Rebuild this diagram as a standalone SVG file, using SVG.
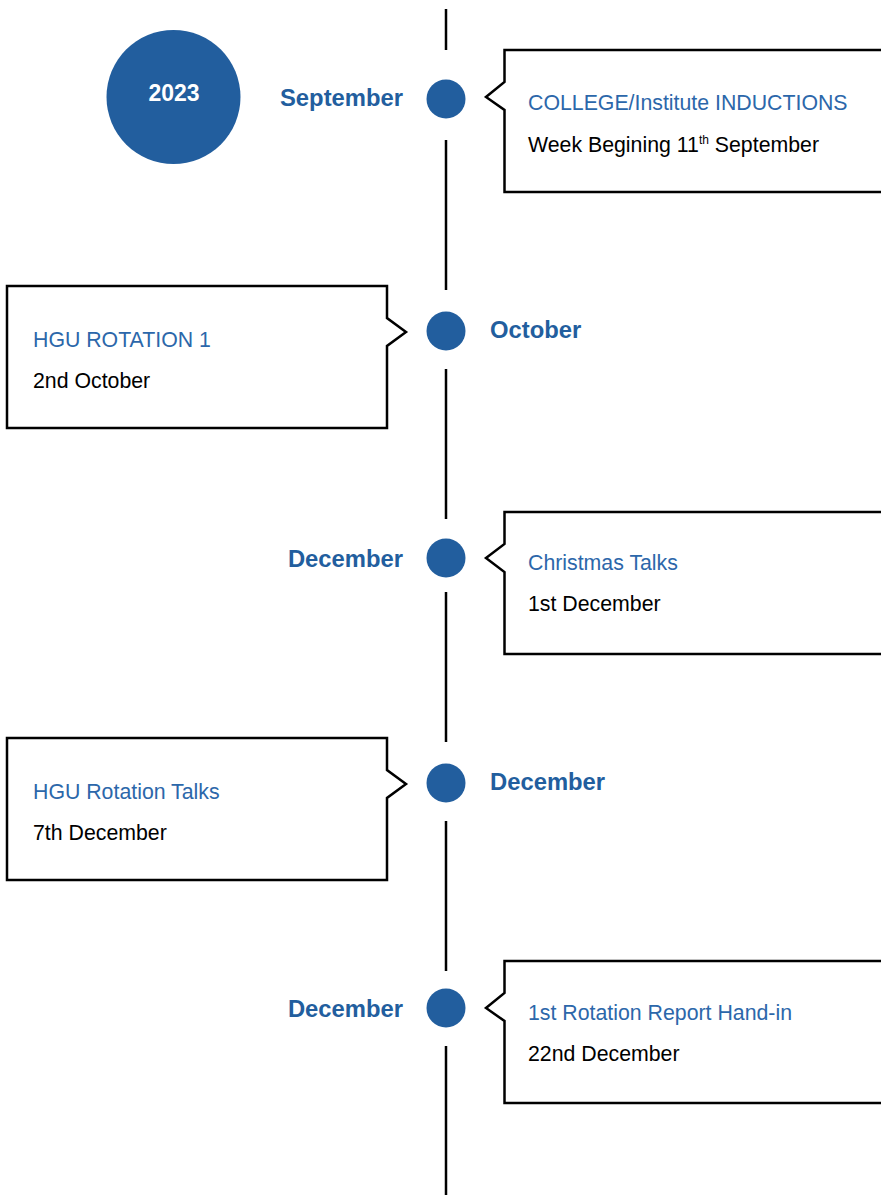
<svg xmlns="http://www.w3.org/2000/svg" width="881" height="1195" viewBox="0 0 881 1195">
<style>
.ln{stroke:#000;stroke-width:2.5;fill:none}
.dot{fill:#225E9E}
.box{fill:#fff;stroke:#000;stroke-width:2.5;stroke-linejoin:miter}
.mon{font-family:"Liberation Sans",Arial,sans-serif;font-weight:bold;font-size:23.8px;fill:#225E9E}
.ttl{font-family:"Liberation Sans",Arial,sans-serif;font-size:21.3px;fill:#2C67AA}
.bdy{font-family:"Liberation Sans",Arial,sans-serif;font-size:21.3px;fill:#000}
</style>
<rect width="881" height="1195" fill="#fff"/>
<g id="connectors">
<line class="ln" x1="446" y1="9" x2="446" y2="50"/>
<line class="ln" x1="446" y1="140" x2="446" y2="290"/>
<line class="ln" x1="446" y1="369" x2="446" y2="519"/>
<line class="ln" x1="446" y1="592" x2="446" y2="742"/>
<line class="ln" x1="446" y1="821" x2="446" y2="971"/>
<line class="ln" x1="446" y1="1046" x2="446" y2="1195"/>
</g>
<g id="year">
<circle class="dot" cx="173.5" cy="97" r="67"/>
<text x="174" y="101" text-anchor="middle" font-family="Liberation Sans, Arial, sans-serif" font-weight="bold" font-size="23" fill="#fff">2023</text>
</g>
<g id="m1">
<circle class="dot" cx="446" cy="99" r="19.5"/>
<text class="mon" x="403" y="106" text-anchor="end">September</text>
</g>
<g id="e1">
<path class="box" d="M890,50 H504.5 V82 L486,97 L504.5,110 V192 H890"/>
<text class="ttl" x="528" y="110">COLLEGE/Institute INDUCTIONS</text>
<text class="bdy" x="528" y="152">Week Begining 11<tspan font-size="12" dy="-8">th</tspan><tspan dy="8"> September</tspan></text>
</g>
<g id="m2">
<circle class="dot" cx="446" cy="331" r="19.5"/>
<text class="mon" x="490" y="338">October</text>
</g>
<g id="e2">
<path class="box" d="M7,286 H387 V318 L406,332 L387,346 V428 H7 Z"/>
<text class="ttl" x="33" y="347">HGU ROTATION 1</text>
<text class="bdy" x="33" y="388">2nd October</text>
</g>
<g id="m3">
<circle class="dot" cx="446" cy="558" r="19.5"/>
<text class="mon" x="403" y="567" text-anchor="end">December</text>
</g>
<g id="e3">
<path class="box" d="M890,512 H504.5 V544 L486,558 L504.5,572 V654 H890"/>
<text class="ttl" x="528" y="570">Christmas Talks</text>
<text class="bdy" x="528" y="611">1st December</text>
</g>
<g id="m4">
<circle class="dot" cx="446" cy="783" r="19.5"/>
<text class="mon" x="490" y="790">December</text>
</g>
<g id="e4">
<path class="box" d="M7,738 H387 V770 L406,784 L387,798 V880 H7 Z"/>
<text class="ttl" x="33" y="799">HGU Rotation Talks</text>
<text class="bdy" x="33" y="840">7th December</text>
</g>
<g id="m5">
<circle class="dot" cx="446" cy="1008" r="19.5"/>
<text class="mon" x="403" y="1017" text-anchor="end">December</text>
</g>
<g id="e5">
<path class="box" d="M890,961 H504.5 V993 L486,1008 L504.5,1021 V1103 H890"/>
<text class="ttl" x="528" y="1020">1st Rotation Report Hand-in</text>
<text class="bdy" x="528" y="1061">22nd December</text>
</g>
</svg>
